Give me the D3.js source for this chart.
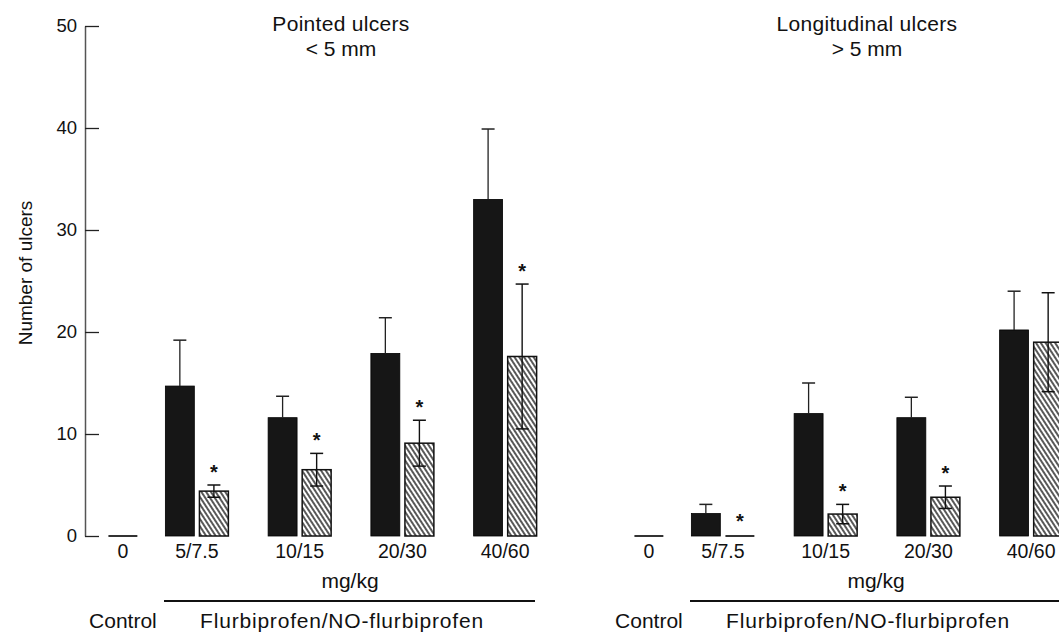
<!DOCTYPE html>
<html>
<head>
<meta charset="utf-8">
<script src="https://cdn.jsdelivr.net/npm/d3@7"></script>
<style>
  body { margin: 0; background: #fff; }
  svg { display: block; font-family: "Liberation Sans", Arial, Helvetica, sans-serif; }
</style>
</head>
<body>
<div id="chart"></div>
<script>
// Ulcer counts by dose: flurbiprofen (solid) vs NO-flurbiprofen (hatched)

const doses = ['5/7.5', '10/15', '20/30', '40/60'];
const controlLabel = '0';
const yTicks = [0, 10, 20, 30, 40, 50];
const panelTitles = ['Pointed ulcers', 'Longitudinal ulcers'];
const panelSubtitles = ['< 5 mm', '> 5 mm'];

const pointedControl = 0;
const pointedFlurbi = [14.7, 11.6, 17.9, 33.0];
const pointedFlurbiErr = [4.5, 2.1, 3.5, 6.9];
const pointedNO = [4.4, 6.5, 9.1, 17.6];
const pointedNOErr = [0.6, 1.6, 2.25, 7.1];
const pointedStars = [true, true, true, true];

const longControl = 0;
const longFlurbi = [2.2, 12.0, 11.6, 20.2];
const longFlurbiErr = [0.9, 3.0, 2.0, 3.8];
const longNO = [0, 2.15, 3.8, 19.0];
const longNOErr = [0, 0.95, 1.1, 4.85];
const longStars = [true, true, true, false];

const W = 1059, H = 632;
const svg = d3.select('#chart').append('svg')
    .attr('width', W)
    .attr('height', H);

// hatch pattern
const defs = svg.append('defs');
defs.append('pattern')
    .attr('id', 'hatch')
    .attr('patternUnits', 'userSpaceOnUse')
    .attr('width', 4)
    .attr('height', 10)
    .attr('patternTransform', 'rotate(-33)')
  .append('line')
    .attr('x1', 1).attr('y1', 0)
    .attr('x2', 1).attr('y2', 10)
    .attr('stroke', '#111')
    .attr('stroke-width', 1.4);

const yScale = d3.scaleLinear().domain([0, 50]).range([536, 26]);

// y axis (left panel only)
const yAxis = d3.axisLeft(yScale)
    .tickValues(yTicks)
    .tickSizeInner(-14)
    .tickSizeOuter(0)
    .tickPadding(8);

const yAxisG = svg.append('g')
    .attr('transform', 'translate(85,0)')
    .call(yAxis);
yAxisG.select('.domain').attr('stroke', '#555').attr('stroke-width', 1.5);
yAxisG.selectAll('.tick line').attr('stroke', '#222').attr('stroke-width', 1.3);
yAxisG.selectAll('.tick text')
    .attr('fill', '#111')
    .style('font-size', '18.5px')
    .style('font-family', '"Liberation Sans", Arial, sans-serif');

svg.append('text')
    .attr('transform', 'translate(32,273) rotate(-90)')
    .attr('text-anchor', 'middle')
    .style('font-size', '19px')
    .attr('fill', '#111')
    .text('Number of ulcers');

const panels = [
    { offset: 0, control: pointedControl, flurbi: pointedFlurbi, flurbiErr: pointedFlurbiErr,
      no: pointedNO, noErr: pointedNOErr, stars: pointedStars },
    { offset: 526, control: longControl, flurbi: longFlurbi, flurbiErr: longFlurbiErr,
      no: longNO, noErr: longNOErr, stars: longStars }
];

const xGroup = d3.scaleBand().domain(doses).range([145.5, 556.5]);
const xSub = d3.scaleBand().domain(['flurbi', 'no']).range([-31.5, 31.5]).paddingInner(0.15);
const barW = xSub.bandwidth();
const capW = 13;

panels.forEach((p, pi) => {
    const g = svg.append('g').attr('transform', `translate(${p.offset},0)`);
    const center = d => xGroup(d) + xGroup.bandwidth() / 2;
    const controlX = center(doses[0]) - xGroup.step() * 0.72;

    const rows = doses.map((d, i) => ({
        dose: d, flurbi: p.flurbi[i], flurbiErr: p.flurbiErr[i],
        no: p.no[i], noErr: p.noErr[i], star: p.stars[i]
    }));

    // control baseline
    g.append('line')
        .attr('x1', controlX - barW / 2).attr('x2', controlX + barW / 2)
        .attr('y1', yScale(p.control)).attr('y2', yScale(p.control))
        .attr('stroke', '#333').attr('stroke-width', 2);

    // solid bars
    g.selectAll('.bar-f').data(rows).enter().append('rect')
        .attr('class', 'bar-f')
        .attr('x', d => center(d.dose) + xSub('flurbi'))
        .attr('y', d => yScale(d.flurbi))
        .attr('width', barW)
        .attr('height', d => yScale(0) - yScale(d.flurbi))
        .attr('fill', '#161616')
        .attr('stroke', '#000')
        .attr('stroke-width', 0.8);

    // hatched bars
    g.selectAll('.bar-n').data(rows.filter(d => d.no > 0)).enter().append('rect')
        .attr('class', 'bar-n')
        .attr('x', d => center(d.dose) + xSub('no'))
        .attr('y', d => yScale(d.no))
        .attr('width', barW)
        .attr('height', d => yScale(0) - yScale(d.no))
        .attr('fill', 'url(#hatch)')
        .attr('stroke', '#111')
        .attr('stroke-width', 1.5);

    // zero-height hatched bars drawn as a line
    g.selectAll('.zero-n').data(rows.filter(d => d.no === 0)).enter().append('line')
        .attr('x1', d => center(d.dose) + xSub('no'))
        .attr('x2', d => center(d.dose) + xSub('no') + barW)
        .attr('y1', yScale(0)).attr('y2', yScale(0))
        .attr('stroke', '#333').attr('stroke-width', 2);

    // error bars: solid bars (upper only)
    const fx = d => center(d.dose) + xSub('flurbi') + barW / 2;
    const fe = g.selectAll('.err-f').data(rows).enter().append('g').attr('class', 'err-f');
    fe.append('line')
        .attr('x1', fx).attr('x2', fx)
        .attr('y1', d => yScale(d.flurbi))
        .attr('y2', d => yScale(d.flurbi + d.flurbiErr))
        .attr('stroke', '#222').attr('stroke-width', 1.3);
    fe.append('line')
        .attr('x1', d => fx(d) - capW / 2)
        .attr('x2', d => fx(d) + capW / 2)
        .attr('y1', d => yScale(d.flurbi + d.flurbiErr))
        .attr('y2', d => yScale(d.flurbi + d.flurbiErr))
        .attr('stroke', '#222').attr('stroke-width', 1.5);

    // error bars: hatched bars (both sides)
    const ne = g.selectAll('.err-n').data(rows.filter(d => d.noErr > 0)).enter().append('g').attr('class', 'err-n');
    const nx = d => center(d.dose) + xSub('no') + barW / 2;
    ne.append('line')
        .attr('x1', nx).attr('x2', nx)
        .attr('y1', d => yScale(d.no - d.noErr))
        .attr('y2', d => yScale(d.no + d.noErr))
        .attr('stroke', '#111').attr('stroke-width', 1.4);
    [1, -1].forEach(s => {
        ne.append('line')
            .attr('x1', d => nx(d) - capW / 2).attr('x2', d => nx(d) + capW / 2)
            .attr('y1', d => yScale(d.no + s * d.noErr))
            .attr('y2', d => yScale(d.no + s * d.noErr))
            .attr('stroke', '#111').attr('stroke-width', 1.5);
    });

    // significance stars
    g.selectAll('.star').data(rows.filter(d => d.star)).enter().append('text')
        .attr('class', 'star')
        .attr('x', nx)
        .attr('y', d => yScale(d.no + d.noErr) - (d.noErr > 0 ? 6 : 8))
        .attr('text-anchor', 'middle')
        .style('font-size', '20px')
        .style('font-weight', 'bold')
        .attr('fill', '#111')
        .text('*');

    // category labels
    const labels = [{ x: controlX, t: controlLabel }].concat(doses.map(d => ({ x: center(d), t: d })));
    g.selectAll('.xlab').data(labels).enter().append('text')
        .attr('class', 'xlab')
        .attr('x', d => d.x)
        .attr('y', yScale(0) + 22)
        .attr('text-anchor', 'middle')
        .style('font-size', '19.5px')
        .attr('fill', '#111')
        .text(d => d.t);

    const midX = 341;
    g.append('text')
        .attr('x', 350).attr('y', 588)
        .attr('text-anchor', 'middle')
        .style('font-size', '21px')
        .attr('fill', '#111')
        .text('mg/kg');

    g.append('line')
        .attr('x1', 164).attr('x2', 535)
        .attr('y1', 601).attr('y2', 601)
        .attr('stroke', '#111').attr('stroke-width', 2);

    g.append('text')
        .attr('x', controlX).attr('y', 628)
        .attr('text-anchor', 'middle')
        .style('font-size', '21px')
        .attr('fill', '#111')
        .text('Control');

    g.append('text')
        .attr('x', midX + 1).attr('y', 628)
        .attr('text-anchor', 'middle')
        .style('font-size', '21px')
        .style('letter-spacing', '0.8px')
        .attr('fill', '#111')
        .text('Flurbiprofen/NO-flurbiprofen');

    // panel title
    g.append('text')
        .attr('x', midX).attr('y', 31)
        .attr('text-anchor', 'middle')
        .style('font-size', '21px')
        .style('letter-spacing', '0.3px')
        .attr('fill', '#111')
        .text(panelTitles[pi]);
    g.append('text')
        .attr('x', midX).attr('y', 56)
        .attr('text-anchor', 'middle')
        .style('font-size', '21px')
        .attr('fill', '#111')
        .text(panelSubtitles[pi]);
});
</script>
</body>
</html>
